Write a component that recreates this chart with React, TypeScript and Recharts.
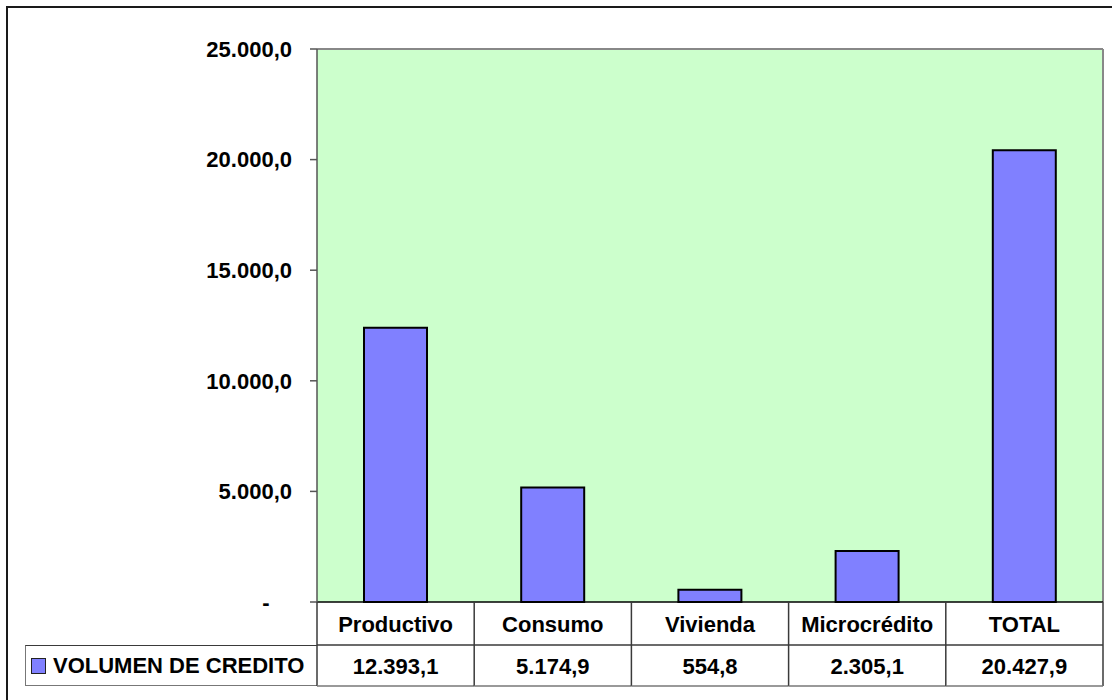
import React from "react";
import { BarChart, Bar, XAxis, YAxis, CartesianGrid, ReferenceLine } from "recharts";

const CATEGORIES = ["Productivo", "Consumo", "Vivienda", "Microcrédito", "TOTAL"];
const VOLUMEN = [12393.1, 5174.9, 554.8, 2305.1, 20427.9];
const SERIES_NAME = "VOLUMEN DE CREDITO";
const Y_TICKS = [0, 5000, 10000, 15000, 20000, 25000];

const FONT = "'Liberation Sans', Arial, sans-serif";
const BAR_FILL = "#8080FF";
const PLOT_BG = "#CCFFCC";
const TABLE_LINE = "#3a3a3a";

const data = CATEGORIES.map((name, i) => ({ name, value: VOLUMEN[i] }));

// 12393.1 -> "12.393,1"
function fmt(v: number) {
  const [int, dec] = v.toFixed(1).split(".");
  return int.replace(/\B(?=(\d{3})+(?!\d))/g, ".") + "," + dec;
}

function YTick(props: any) {
  const { x, y, payload } = props;
  const zero = payload.value === 0;
  return (
    <text
      x={zero ? x - 26 : x}
      y={y}
      dy="0.355em"
      textAnchor={zero ? "middle" : "end"}
      fontFamily={FONT}
      fontWeight="bold"
      fontSize={22}
      fill="#000"
    >
      {zero ? "-" : fmt(payload.value)}
    </text>
  );
}

// each tick draws its own column of the data table
function TableTick(props: any) {
  const { x, y, payload, index, width } = props;
  const band = width / CATEGORIES.length;
  const left = x - band / 2;
  const right = x + band / 2;
  return (
    <g>
      <line x1={left} y1={y} x2={left} y2={y + 84} stroke={TABLE_LINE} strokeWidth={1.5} />
      {index === CATEGORIES.length - 1 && (
        <line x1={right} y1={y} x2={right} y2={y + 84} stroke={TABLE_LINE} strokeWidth={1.5} />
      )}
      <line x1={left} y1={y + 43} x2={right} y2={y + 43} stroke={TABLE_LINE} strokeWidth={1.5} />
      <line x1={left} y1={y + 84} x2={right} y2={y + 84} stroke="#777" strokeWidth={1.5} />
      <text x={x} y={y + 22} dy="0.355em" textAnchor="middle" fontFamily={FONT} fontWeight="bold" fontSize={22} fill="#000">
        {payload.value}
      </text>
      <text x={x} y={y + 64} dy="0.355em" textAnchor="middle" fontFamily={FONT} fontWeight="bold" fontSize={22} fill="#000">
        {fmt(VOLUMEN[index])}
      </text>
    </g>
  );
}

export default function App() {
  return (
    <div
      style={{
        position: "fixed",
        left: 0,
        top: 0,
        width: 1112,
        height: 700,
        overflow: "hidden",
        background: "#fff",
      }}
    >
      <div
        style={{
          position: "absolute",
          left: 6,
          top: 6,
          width: 1200,
          height: 800,
          border: "2px solid #1a1a1a",
        }}
      />
      {/* legend cell of the data table */}
      <div
        style={{
          position: "absolute",
          left: 25,
          top: 645,
          width: 292,
          height: 41,
          borderLeft: "1.5px solid #777",
          borderBottom: "1.5px solid #777",
          borderTop: `1.5px solid ${TABLE_LINE}`,
          boxSizing: "border-box",
          display: "flex",
          alignItems: "center",
          fontFamily: FONT,
          fontWeight: "bold",
          fontSize: 22,
          color: "#000",
          whiteSpace: "nowrap",
        }}
      >
        <span
          style={{
            display: "inline-block",
            width: 13,
            height: 14,
            background: BAR_FILL,
            border: "1.5px solid #222",
            marginLeft: 5,
            marginRight: 7,
          }}
        />
        {SERIES_NAME}
      </div>
      <div style={{ position: "absolute", left: 0, top: 0 }}>
        <BarChart
          width={1112}
          height={700}
          data={data}
          margin={{ top: 49, right: 9, bottom: 0, left: 0 }}
        >
          <CartesianGrid horizontal={false} vertical={false} fill={PLOT_BG} stroke="none" />
          <XAxis
            dataKey="name"
            height={98}
            axisLine={{ stroke: "#000", strokeWidth: 1.5 }}
            tickLine={false}
            tickSize={0}
            tickMargin={0}
            interval={0}
            tick={<TableTick />}
          />
          <YAxis
            width={317}
            domain={[0, 25000]}
            ticks={Y_TICKS}
            interval={0}
            axisLine={{ stroke: "#555", strokeWidth: 1.5 }}
            tickLine={{ stroke: "#555", strokeWidth: 1.5 }}
            tickSize={7}
            tickMargin={18}
            tick={<YTick />}
          />
          <ReferenceLine y={25000} stroke="#888" strokeWidth={2} />
          <ReferenceLine x="TOTAL" position="end" stroke="#888" strokeWidth={2} />
          <Bar
            dataKey="value"
            fill={BAR_FILL}
            stroke="#000"
            strokeWidth={2}
            barSize={63}
            isAnimationActive={false}
          />
        </BarChart>
      </div>
    </div>
  );
}
